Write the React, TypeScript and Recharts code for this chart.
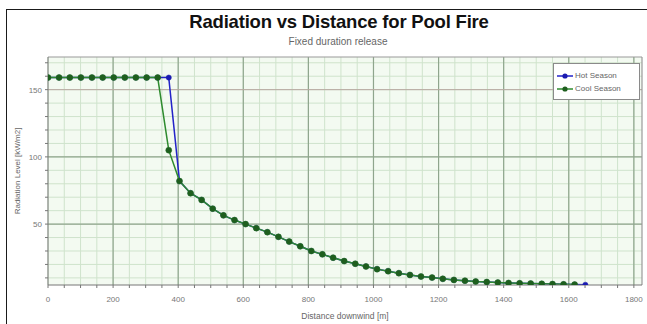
import React from 'react';
import { LineChart, Line, XAxis, YAxis, CartesianGrid, ReferenceLine, Label } from 'recharts';

const distances = [0, 34, 67, 101, 135, 168, 202, 236, 270, 303, 337, 371, 404, 438, 472, 506, 539, 573, 607, 640, 674, 708, 741, 775, 809, 843, 876, 910, 944, 977, 1011, 1045, 1078, 1112, 1146, 1180, 1213, 1247, 1281, 1314, 1348, 1382, 1415, 1449, 1483, 1517, 1550, 1584, 1618, 1651];
const hotValues = [159, 159, 159, 159, 159, 159, 159, 159, 159, 159, 159, 159, 82, 73, 68, 61.5, 56.5, 53, 50, 47, 44, 40.5, 37, 33.5, 30, 27.5, 25, 22.5, 20.5, 18.5, 16.5, 15, 13.5, 12.2, 11, 10.2, 9.3, 8.5, 7.9, 7.3, 6.9, 6.5, 6.2, 6.0, 5.8, 5.6, 5.4, 5.2, 5.0, 4.9];
const coolValues = [159, 159, 159, 159, 159, 159, 159, 159, 159, 159, 159, 105, 82, 73, 68, 61.5, 56.5, 53, 50, 47, 44, 40.5, 37, 33.5, 30, 27.5, 25, 22.5, 20.5, 18.5, 16.5, 15, 13.5, 12.2, 11, 10.2, 9.3, 8.5, 7.9, 7.3, 6.9, 6.5, 6.2, 6.0, 5.8, 5.6, 5.4, 5.2, 5.0];

const xTicks = [0, 50, 100, 150, 200, 250, 300, 350, 400, 450, 500, 550, 600, 650, 700, 750, 800, 850, 900, 950, 1000, 1050, 1100, 1150, 1200, 1250, 1300, 1350, 1400, 1450, 1500, 1550, 1600, 1650, 1700, 1750, 1800];
const xMajor = [200, 400, 600, 800, 1000, 1200, 1400, 1600, 1800];
const yTicks = [10, 20, 30, 40, 50, 60, 70, 80, 90, 100, 110, 120, 130, 140, 150, 160, 170];
const yMajor = [50, 100];
const yMajorRed = [150];
const xDomain: [number, number] = [0, 1825];
const yDomain: [number, number] = [4.7, 174.3];
const seriesNames = ['Hot Season', 'Cool Season'];

const hotData = distances.map((d, i) => ({ x: d, y: hotValues[i] }));
const coolData = coolValues.map((v, i) => ({ x: distances[i], y: v }));

const FONT = "'Liberation Sans', Arial, sans-serif";

const legendItems = [
  { name: seriesNames[0], color: '#2323c8', dot: '#1a1ab0' },
  { name: seriesNames[1], color: '#2e8b2e', dot: '#1e5e1e' },
];

const LegendBox = () => (
  <div style={{ position: 'absolute', left: 553, top: 63, border: '1px solid #8a8a8a', background: '#fff', width: 87, height: 37, boxSizing: 'border-box', padding: '5px 0 0 3px', fontFamily: FONT, fontSize: 8, color: '#666' }}>
    {legendItems.map((it) => (
      <div key={it.name} style={{ display: 'flex', alignItems: 'center', height: 13 }}>
        <svg width={16} height={8}>
          <line x1={0} y1={4} x2={16} y2={4} stroke={it.color} strokeWidth={1.5} />
          <circle cx={8} cy={4} r={2.6} fill={it.dot} />
        </svg>
        <span style={{ marginLeft: 2 }}>{it.name}</span>
      </div>
    ))}
  </div>
);

const fmtX = (v: number) => (xMajor.includes(v) || v === 0 ? String(v) : '');
const fmtY = (v: number) => (v % 50 === 0 ? String(v) : '');

export default function App() {
  return (
    <div style={{ position: 'absolute', left: 0, top: 0, width: 647, height: 324, overflow: 'hidden', background: '#fff' }}>
      <div style={{ position: 'absolute', left: 6, top: 9, width: 700, height: 400, border: '1.5px solid #1a1a1a' }} />
      <div style={{ position: 'absolute', left: 339, top: 11, transform: 'translateX(-50%)', whiteSpace: 'nowrap', fontFamily: FONT, fontWeight: 'bold', fontSize: 18.5, color: '#111', letterSpacing: -0.2 }}>
        Radiation vs Distance for Pool Fire
      </div>
      <div style={{ position: 'absolute', left: 338, top: 36, transform: 'translateX(-50%)', whiteSpace: 'nowrap', fontFamily: FONT, fontSize: 10, color: '#666' }}>
        Fixed duration release
      </div>
      <div style={{ position: 'absolute', left: 0, top: 0 }}>
        <LineChart width={647} height={324} margin={{ top: 57, right: 5, bottom: 2, left: 0 }}>
          <CartesianGrid fill="#f3faf1" stroke="#cfe3cc" strokeWidth={1} horizontalValues={yTicks} verticalValues={xTicks} />
          <CartesianGrid fill="none" stroke="#8fa58d" strokeWidth={1.2} horizontalValues={yMajor} verticalValues={xMajor} />
          <CartesianGrid fill="none" stroke="#b8a8a0" strokeWidth={1} horizontalValues={yMajorRed} vertical={false} />
          <XAxis
            type="number"
            dataKey="x"
            domain={xDomain}
            ticks={xTicks}
            tickFormatter={fmtX}
            allowDataOverflow
            height={37}
            tickSize={3}
            tickMargin={8}
            interval={0}
            stroke="#777"
            tick={{ fill: '#777', fontSize: 8, fontFamily: FONT }}
          >
            <Label value="Distance downwind [m]" position="insideBottom" offset={3} style={{ fill: '#666', fontSize: 8.5, fontFamily: FONT }} />
          </XAxis>
          <YAxis
            type="number"
            dataKey="y"
            domain={yDomain}
            ticks={yTicks}
            tickFormatter={fmtY}
            allowDataOverflow
            width={48}
            tickSize={3}
            tickMargin={3}
            interval={0}
            stroke="#777"
            tick={{ fill: '#777', fontSize: 8, fontFamily: FONT }}
          >
            <Label value="Radiation Level [kW/m2]" angle={-90} position="insideLeft" offset={17} style={{ fill: '#666', fontSize: 8, fontFamily: FONT, textAnchor: 'middle' }} />
          </YAxis>
          <ReferenceLine y={yDomain[1]} stroke="#999" strokeWidth={1.2} />
          <ReferenceLine x={xDomain[1]} stroke="#999" strokeWidth={1.2} />
          <Line data={hotData} dataKey="y" name={seriesNames[0]} stroke="#2323c8" strokeWidth={1.5} dot={{ r: 2.6, fill: '#1a1ab0', stroke: '#1a1ab0', strokeWidth: 0.5 }} isAnimationActive={false} />
          <Line data={coolData} dataKey="y" name={seriesNames[1]} stroke="#2e8b2e" strokeWidth={1.5} dot={{ r: 3, fill: '#1e5e1e', stroke: '#256e25', strokeWidth: 0.5 }} isAnimationActive={false} />
        </LineChart>
      </div>
      <LegendBox />
    </div>
  );
}
